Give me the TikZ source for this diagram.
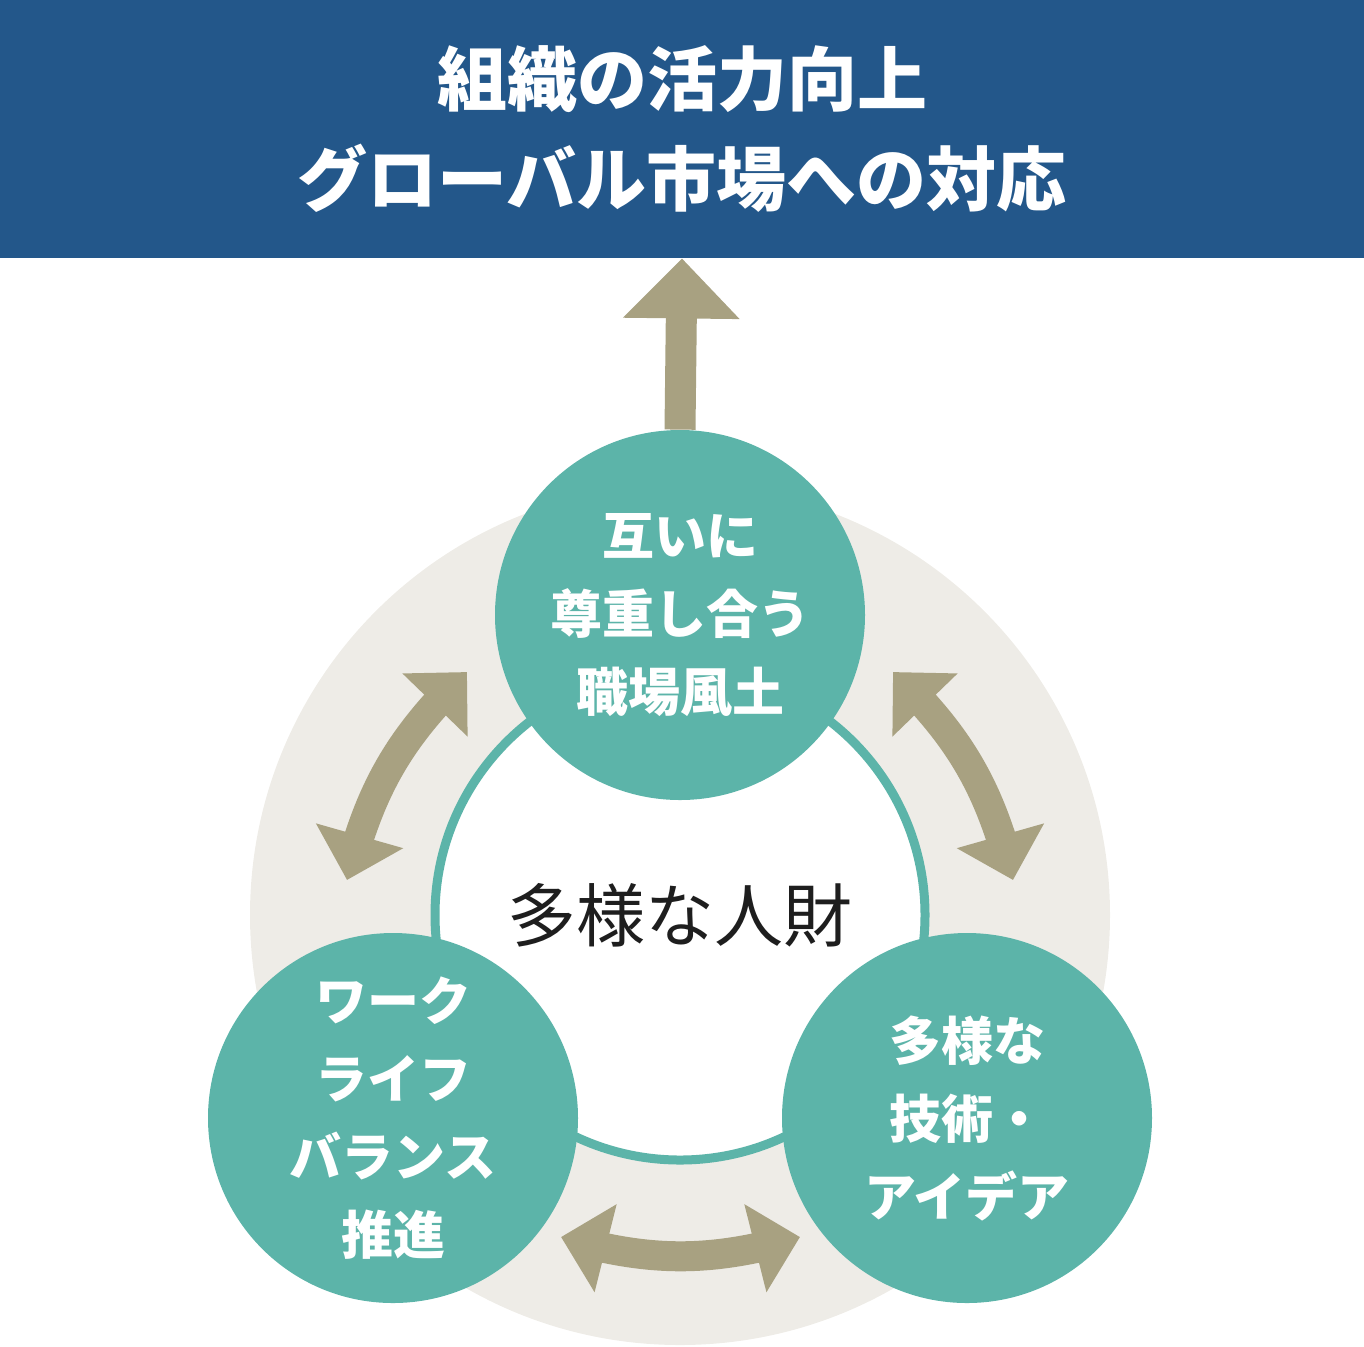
\documentclass[tikz,border=0pt]{standalone}
\usepackage{fontspec}
\setmainfont{Noto Sans CJK JP}
\usepackage{xcolor}
\usetikzlibrary{positioning, arrows.meta, bending}

\definecolor{bannerblue}{HTML}{23578A}
\definecolor{ringgray}{HTML}{EEECE7}
\definecolor{ringteal}{HTML}{5CB4A9}
\definecolor{arrowtan}{HTML}{A8A181}
\definecolor{inkblack}{HTML}{1E1E1E}

\begin{document}
\begin{tikzpicture}[
        x=0.5pt, y=0.5pt,
        every node/.style={
            align=center,
            inner sep=0pt
        },
        banner/.style={
            rectangle,
            fill=bannerblue,
            text=white,
            minimum width=682pt,
            minimum height=129pt,
            font=\bfseries\fontsize{35pt}{50pt}\selectfont
        },
        ring/.style={
            circle,
            fill=ringgray,
            minimum size=430pt
        },
        core/.style={
            circle,
            draw=ringteal,
            line width=4.5pt,
            fill=white,
            minimum size=245pt,
            text=inkblack,
            font=\fontsize{34.5pt}{40pt}\selectfont
        },
        pillar/.style={
            circle,
            fill=ringteal,
            text=white,
            minimum size=185pt,
            font=\bfseries\fontsize{26pt}{39pt}\selectfont
        },
        uparrow/.style={
            -{Triangle[length=30pt, width=56.5pt]},
            line width=15.5pt,
            draw=arrowtan
        },
        cyclearrow/.style={
            {Triangle[length=23pt, width=44pt]}-{Triangle[length=23pt, width=44pt]},
            line width=15pt,
            draw=arrowtan
        }
    ]

    \useasboundingbox (0,0) rectangle (1364,-1346);

    % Objetivo superior

    \node[banner] (goal) at (682,-129)
    {組織の活力向上\\
    グローバル市場への対応};

    % Anillo y centro

    \node[ring] (ring) at (680,-915) {};

    \node[core] (talent) at (680,-915) {多様な人財};

    % Tres pilares

    \node[pillar] (respect) at (680,-615)
    {互いに\\
    尊重し合う\\
    職場風土};

    \node[pillar] (balance) at (393,-1118)
    {ワーク\\
    ライフ\\
    バランス\\
    推進};

    \node[pillar] (ideas) at (967,-1118)
    {多様な\\
    技術・\\
    アイデア};

    % Flecha hacia el objetivo

    \draw[uparrow] (respect.north) -- (goal.south);

    % Flechas del ciclo

    \coordinate (lefttop) at (467,-672);
    \coordinate (leftbot) at (347,-880);
    \coordinate (righttop) at (893,-672);
    \coordinate (rightbot) at (1013,-880);
    \coordinate (botleft) at (561,-1237);
    \coordinate (botright) at (800,-1237);

    \draw[cyclearrow] (lefttop) to[bend right=16] (leftbot);
    \draw[cyclearrow] (rightbot) to[bend right=16] (righttop);
    \draw[cyclearrow] (botleft) to[bend right=16] (botright);

    \end{tikzpicture}
\end{document}
